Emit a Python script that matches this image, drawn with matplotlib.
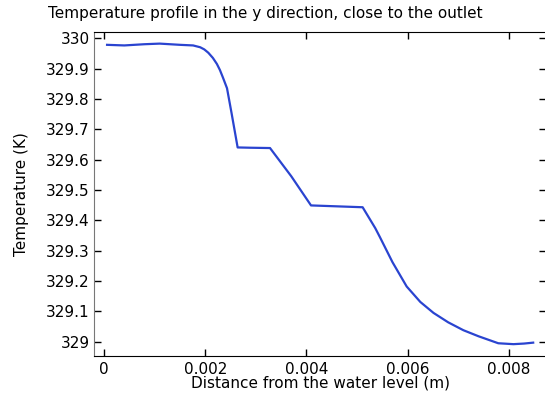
import numpy as np
import matplotlib
matplotlib.use('Agg')
import matplotlib.pyplot as plt

# temperature along y near the outlet
dist = [0.00006, 0.0004, 0.0008, 0.0011, 0.0015, 0.00176, 0.0019, 0.00198, 0.00206,
        0.00215, 0.00223, 0.00229, 0.00235, 0.00243, 0.00252, 0.00264, 0.0029, 0.00328,
        0.0037, 0.00409, 0.0046, 0.00511, 0.00536, 0.00545, 0.0057, 0.00598, 0.00625,
        0.00651, 0.0068, 0.0071, 0.0074, 0.00779, 0.00809, 0.0083, 0.00848]
temp = [329.978, 329.976, 329.980, 329.982, 329.978, 329.976, 329.970, 329.963, 329.952,
        329.935, 329.915, 329.895, 329.870, 329.835, 329.753, 329.640, 329.639, 329.638,
        329.545, 329.449, 329.446, 329.443, 329.374, 329.345, 329.262, 329.182, 329.131,
        329.095, 329.064, 329.038, 329.018, 328.995, 328.992, 328.994, 328.997]

xticks = [0, 0.002, 0.004, 0.006, 0.008]
xlabels = ['0', '0.002', '0.004', '0.006', '0.008']
yticks = [329 + 0.1 * i for i in range(11)]
ylabels = ['329', '329.1', '329.2', '329.3', '329.4', '329.5', '329.6', '329.7', '329.8', '329.9', '330']

fig = plt.figure(figsize=(5.45, 3.96), dpi=100)
# right edge of the axes sits just past the figure border
ax = fig.add_axes([0.1725, 0.101, 0.8295, 0.818])
ax.plot(dist, temp, color='#2a44d0', lw=1.6)

ax.set_xlim(-0.000198, 0.008735)
ax.set_ylim(328.953, 330.02)
ax.set_xticks(xticks)
ax.set_xticklabels(xlabels)
ax.set_yticks(yticks)
ax.set_yticklabels(ylabels)
ax.tick_params(direction='in', length=5, width=1, labelsize=11, top=True, right=True, pad=3)
ax.tick_params(axis='x', pad=4)
ax.spines['left'].set_color('#777777')

fig.text(0.486, 0.965, 'Temperature profile in the y direction, close to the outlet',
         fontsize=11, ha='center', va='center')
ax.set_xlabel('Distance from the water level (m)', fontsize=11, labelpad=-1)
ax.set_ylabel('Temperature (K)', fontsize=11, labelpad=12)

fig.savefig('out.png', dpi=100)
